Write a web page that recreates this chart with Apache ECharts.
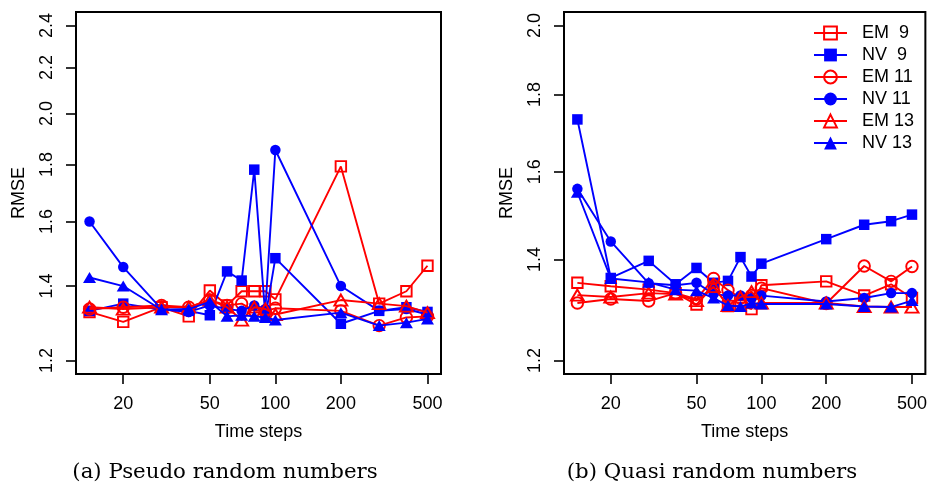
<!DOCTYPE html>
<html>
<head>
<meta charset="utf-8">
<script src="https://cdn.jsdelivr.net/npm/echarts@6/dist/echarts.min.js"></script>
<style>
  html, body { margin: 0; padding: 0; background: #fff; }
  #chart { width: 930px; height: 485px; }
</style>
</head>
<body>
<div id="chart"></div>
<script>
// Time steps on the horizontal (log) axis
const timeSteps = [14, 20, 30, 40, 50, 60, 70, 80, 90, 100, 200, 300, 400, 500];
const xTicks = [20, 50, 100, 200, 500];
const yTicksPseudo = [1.2, 1.4, 1.6, 1.8, 2.0, 2.2, 2.4];
const yTicksQuasi = [1.2, 1.4, 1.6, 1.8, 2.0];
const seriesNames = ['EM  9', 'NV  9', 'EM 11', 'NV 11', 'EM 13', 'NV 13'];

// (a) pseudo random numbers
const pseudoEM9  = [1.327, 1.300, 1.340, 1.315, 1.387, 1.345, 1.385, 1.385, 1.385, 1.362, 1.793, 1.350, 1.385, 1.460];
const pseudoNV9  = [1.330, 1.350, 1.333, 1.330, 1.318, 1.443, 1.416, 1.781, 1.313, 1.483, 1.295, 1.330, 1.340, 1.327];
const pseudoEM11 = [1.335, 1.340, 1.345, 1.340, 1.360, 1.345, 1.350, 1.330, 1.330, 1.337, 1.330, 1.290, 1.312, 1.315];
const pseudoNV11 = [1.600, 1.456, 1.335, 1.327, 1.345, 1.335, 1.330, 1.345, 1.335, 1.855, 1.400, 1.330, 1.335, 1.320];
const pseudoEM13 = [1.340, 1.335, 1.340, 1.340, 1.360, 1.340, 1.305, 1.340, 1.335, 1.320, 1.360, 1.350, 1.343, 1.325];
const pseudoNV13 = [1.425, 1.400, 1.333, 1.335, 1.355, 1.315, 1.318, 1.315, 1.312, 1.305, 1.325, 1.290, 1.298, 1.308];

// (b) quasi random numbers
const quasiEM9  = [1.351, 1.344, 1.337, 1.330, 1.307, 1.345, 1.304, 1.305, 1.298, 1.346, 1.354, 1.325, 1.348, 1.320];
const quasiNV9  = [1.733, 1.361, 1.397, 1.348, 1.382, 1.351, 1.355, 1.405, 1.364, 1.391, 1.444, 1.476, 1.484, 1.499];
const quasiEM11 = [1.310, 1.318, 1.314, 1.330, 1.318, 1.360, 1.336, 1.320, 1.325, 1.340, 1.309, 1.386, 1.354, 1.385];
const quasiNV11 = [1.559, 1.439, 1.350, 1.346, 1.351, 1.328, 1.325, 1.325, 1.320, 1.325, 1.313, 1.320, 1.330, 1.330];
const quasiEM13 = [1.326, 1.322, 1.330, 1.328, 1.315, 1.343, 1.305, 1.322, 1.333, 1.310, 1.310, 1.303, 1.302, 1.302];
const quasiNV13 = [1.551, 1.360, 1.352, 1.337, 1.335, 1.320, 1.305, 1.303, 1.310, 1.308, 1.308, 1.303, 1.302, 1.315];

const RED = '#ff0000';
const BLUE = '#0000ff';
const FONT = 'Liberation Sans, Arial, Helvetica, sans-serif';
const lg = Math.log10;

// axis range: data/limit range widened by 4% on each side in log space
function logRange(lo, hi) {
  const a = lg(lo), b = lg(hi), pad = (b - a) * 0.04;
  return [a - pad, b + pad];
}
const xRange = logRange(timeSteps[0], timeSteps[timeSteps.length - 1]);
const yRangePseudo = logRange(1.2, 2.4);
const yRangeQuasi = logRange(1.2, 2.0);

const styles = [
  { symbol: 'rect',     size: 10.5,     color: RED,  hollow: true },
  { symbol: 'rect',     size: 10.5,     color: BLUE, hollow: false },
  { symbol: 'circle',   size: 11.5,     color: RED,  hollow: true },
  { symbol: 'circle',   size: 10.5,     color: BLUE, hollow: false },
  { symbol: 'triangle', size: [13, 11], color: RED,  hollow: true },
  { symbol: 'triangle', size: [13, 11], color: BLUE, hollow: false }
];

function makeSeries(values, k, idx) {
  const st = styles[k];
  return {
    name: seriesNames[k],
    type: 'line',
    xAxisIndex: idx,
    yAxisIndex: idx,
    data: values.map((v, i) => [lg(timeSteps[i]), lg(v)]),
    symbol: st.symbol,
    symbolSize: st.size,
    showAllSymbol: true,
    clip: false,
    lineStyle: { color: st.color, width: 1.9 },
    itemStyle: st.hollow
      ? { color: 'rgba(255,255,255,0)', borderColor: st.color, borderWidth: 1.9 }
      : { color: st.color, borderWidth: 0 },
    emphasis: { disabled: true },
    z: 2 + k
  };
}

function xAxisFor(idx) {
  return {
    type: 'value', gridIndex: idx,
    min: xRange[0], max: xRange[1],
    axisLine: { show: false },
    splitLine: { show: false },
    axisTick: { show: true, length: 10, customValues: xTicks.map(lg), lineStyle: { color: '#000', width: 1.6 } },
    axisLabel: {
      customValues: xTicks.map(lg), margin: 21,
      formatter: v => String(Math.round(Math.pow(10, v))),
      color: '#000', fontSize: 18, fontFamily: FONT
    },
    name: 'Time steps', nameLocation: 'middle', nameGap: 49,
    nameTextStyle: { color: '#000', fontSize: 18, fontFamily: FONT }
  };
}

function yAxisFor(idx, range, ticks) {
  return {
    type: 'value', gridIndex: idx,
    min: range[0], max: range[1],
    axisLine: { show: false },
    splitLine: { show: false },
    axisTick: { show: true, length: 10, customValues: ticks.map(lg), lineStyle: { color: '#000', width: 1.6 } },
    axisLabel: {
      customValues: ticks.map(lg), rotate: 90, margin: 20,
      formatter: v => Math.pow(10, v).toFixed(1),
      color: '#000', fontSize: 18, fontFamily: FONT
    },
    name: 'RMSE', nameLocation: 'middle', nameRotate: 90, nameGap: 48,
    nameTextStyle: { color: '#000', fontSize: 18, fontFamily: FONT }
  };
}

const pseudo = [pseudoEM9, pseudoNV9, pseudoEM11, pseudoNV11, pseudoEM13, pseudoNV13];
const quasi = [quasiEM9, quasiNV9, quasiEM11, quasiNV11, quasiEM13, quasiNV13];

const chart = echarts.init(document.getElementById('chart'), null, { renderer: 'canvas' });
chart.setOption({
  animation: false,
  backgroundColor: '#fff',
  grid: [
    { left: 76, top: 12, width: 365, height: 362, show: true, borderColor: '#000', borderWidth: 2, backgroundColor: 'transparent' },
    { left: 564, top: 12, width: 363, height: 362, show: true, borderColor: '#000', borderWidth: 2, backgroundColor: 'transparent' }
  ],
  xAxis: [xAxisFor(0), xAxisFor(1)],
  yAxis: [yAxisFor(0, yRangePseudo, yTicksPseudo), yAxisFor(1, yRangeQuasi, yTicksQuasi)],
  legend: {
    orient: 'vertical', left: 813, top: 24,
    padding: 0, itemGap: 4, itemWidth: 33, itemHeight: 16,
    selectedMode: false,
    data: seriesNames,
    textStyle: { color: '#000', fontSize: 18, fontFamily: FONT, lineHeight: 18, padding: [0, 0, 0, 10] }
  },
  graphic: [
    { type: 'text', x: 225, y: 472, style: { text: '(a) Pseudo random numbers', align: 'center', verticalAlign: 'middle', fontFamily: 'DejaVu Serif, serif', fontSize: 21.3, fill: '#000' } },
    { type: 'text', x: 712, y: 472, style: { text: '(b) Quasi random numbers', align: 'center', verticalAlign: 'middle', fontFamily: 'DejaVu Serif, serif', fontSize: 21.3, fill: '#000' } }
  ],
  series: [
    ...pseudo.map((vals, k) => makeSeries(vals, k, 0)),
    ...quasi.map((vals, k) => makeSeries(vals, k, 1))
  ]
});
</script>
</body>
</html>
